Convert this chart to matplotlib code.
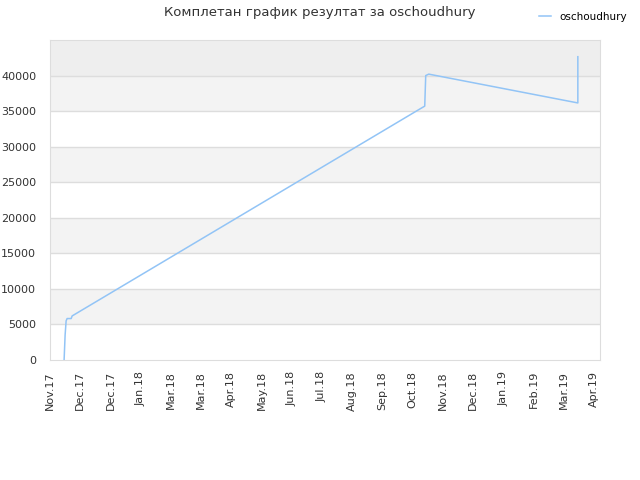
import datetime as dt
import matplotlib
matplotlib.use('Agg')
import matplotlib.pyplot as plt

TITLE = 'Комплетан график резултат за oschoudhury'
SERIES = 'oschoudhury'

# points
dates = ['2017-11-15', '2017-11-16', '2017-11-17', '2017-11-18', '2017-11-22',
         '2017-11-23', '2018-11-02', '2018-11-08', '2018-11-09', '2018-11-12',
         '2019-04-09', '2019-04-09']
scores = [0, 3500, 5500, 5830, 5830, 6200, 35200, 35700, 40000, 40200,
          36150, 42650]

# ticks every 30 days starting at the left edge, labelled with their month
tick_start = '2017-11-01'
tick_step_days = 30
x_span_days = 546
tick_labels = ['Nov.17', 'Dec.17', 'Dec.17', 'Jan.18', 'Mar.18', 'Mar.18', 'Apr.18',
               'May.18', 'Jun.18', 'Jul.18', 'Aug.18', 'Sep.18', 'Oct.18', 'Nov.18',
               'Dec.18', 'Jan.19', 'Feb.19', 'Mar.19', 'Apr.19']
y_ticks = [0, 5000, 10000, 15000, 20000, 25000, 30000, 35000, 40000]
y_top = 45000

to_dt = lambda s: dt.datetime.strptime(s, '%Y-%m-%d')
x = [to_dt(d) for d in dates]
x0 = to_dt(tick_start)
xt = [x0 + dt.timedelta(days=tick_step_days * k) for k in range(len(tick_labels))]

fig = plt.figure(figsize=(6.4, 4.8), dpi=100)
ax = fig.add_axes([50/640, 120/480, 550/640, 320/480])

# alternating bands
for i, lo in enumerate(y_ticks):
    if lo == 40000:
        ax.axhspan(lo, y_top, color='#eeeeee', zorder=0, lw=0)
    elif i % 2 == 1:
        ax.axhspan(lo, lo + 5000, color='#f3f3f3', zorder=0, lw=0)
for yv in y_ticks[1:]:
    ax.axhline(yv, color='#dddddd', lw=1, zorder=1)

ax.plot(x, scores, color='#92c4f6', lw=1.1, label=SERIES, zorder=3)

ax.set_xlim(x0, x0 + dt.timedelta(days=x_span_days))
ax.set_ylim(0, y_top)
ax.set_yticks(y_ticks)
ax.set_xticks(xt)
ax.set_xticklabels(tick_labels, rotation=90)
ax.tick_params(axis='both', labelsize=8, colors='#333333', length=0)
ax.tick_params(axis='y', pad=10)
ax.tick_params(axis='x', pad=8)
for sp in ax.spines.values():
    sp.set_color('#dddddd')

fig.text(0.5, 0.974, TITLE, ha='center', va='center', fontsize=9.5, color='#333333')
fig.legend(loc='upper right', bbox_to_anchor=(0.995, 0.995), frameon=False,
           fontsize=7.5, handlelength=1.2)

fig.savefig('out.png', dpi=100)
